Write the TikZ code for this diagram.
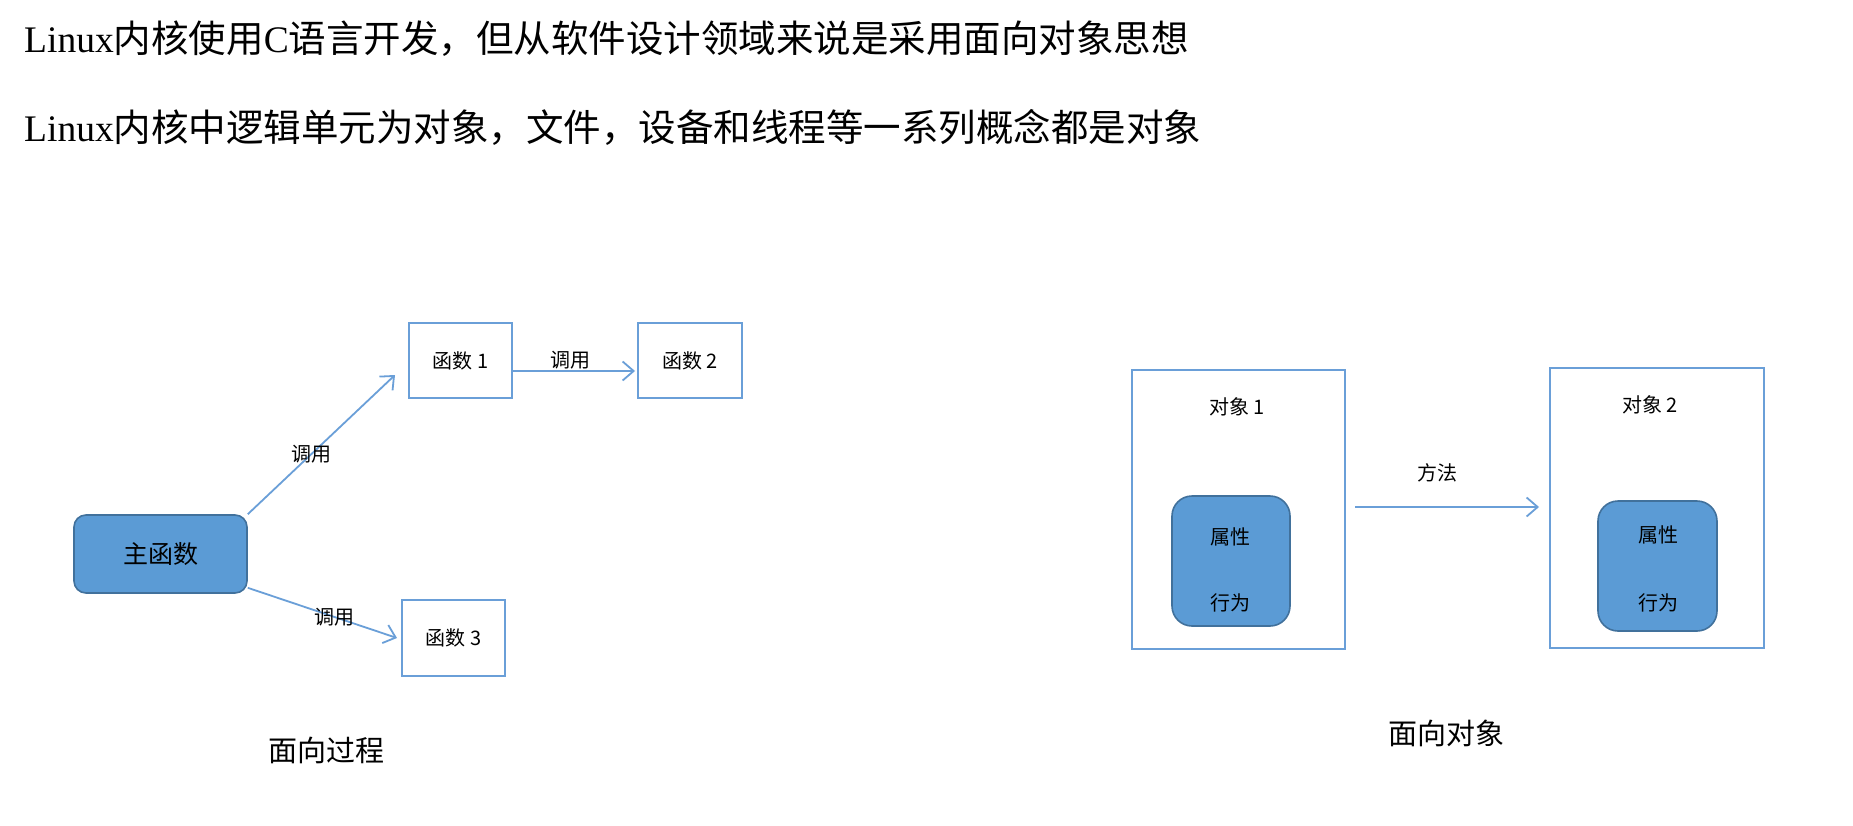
\documentclass[tikz,border=0pt]{standalone}
\usepackage{fontspec}
\setmainfont{Liberation Serif}
\newfontfamily\cjk{Noto Sans CJK SC}
\usetikzlibrary{arrows.meta}
\definecolor{fillblue}{HTML}{5B9BD5}
\definecolor{darkedge}{HTML}{41719C}
\definecolor{lineblue}{HTML}{6A9FD8}
\tikzset{
  topline/.style={anchor=base west, inner sep=0pt, font=\fontsize{37.5}{40}\selectfont},
  funcbox/.style={draw=lineblue, line width=2pt, fill=white, inner sep=0pt, font=\cjk\fontsize{20}{22}\selectfont},
  objbox/.style={draw=lineblue, line width=2pt, inner sep=0pt},
  bluebox/.style={draw=darkedge, fill=fillblue, line width=1.6pt, rounded corners=14pt, inner sep=0pt},
  lbl/.style={inner sep=0pt, font=\cjk\fontsize{20}{22}\selectfont},
  caption/.style={inner sep=0pt, font=\cjk\fontsize{29}{31}\selectfont},
  conn/.style={draw=lineblue, line width=1.8pt, -{Straight Barb[length=11pt,width=19pt,line width=1.8pt]}}
}
\begin{document}
\begin{tikzpicture}[x=1pt,y=-1pt]
\useasboundingbox[fill=white] (0,0) rectangle (1853,825);

% top text lines
\node[topline] (l1) at (24,52) {Linux{\cjk 内核使用}C{\cjk 语言开发，但从软件设计领域来说是采用面向对象思想}};
\node[topline] (l2) at (24,141) {Linux{\cjk 内核中逻辑单元为对象，文件，设备和线程等一系列概念都是对象}};

% procedure-oriented diagram
\node[bluebox, minimum width=173pt, minimum height=78pt, rounded corners=12pt, font=\cjk\fontsize{25}{27}\selectfont] (main) at (160.5,554) {主函数};
\node[funcbox, minimum width=103pt, minimum height=75pt] (f1) at (460.5,360.5) {函数 1};
\node[funcbox, minimum width=104pt, minimum height=75pt] (f2) at (690,360.5) {函数 2};
\node[funcbox, minimum width=103pt, minimum height=76pt] (f3) at (453.5,638) {函数 3};

\draw[conn] (main.north east) -- ([xshift=-13pt,yshift=-14.5pt]f1.west)
  node[lbl, pos=0.43] (c1) {调用};
\draw[conn] ([yshift=-10.5pt]f1.east) -- ([xshift=-2pt,yshift=-10.5pt]f2.west)
  node[lbl, pos=0.47, yshift=11pt] (c2) {调用};
\draw[conn] ([yshift=6pt]main.south east) -- ([xshift=-4pt]f3.west)
  node[lbl, pos=0.58] (c3) {调用};

\node[caption] (cap1) at (326,750) {面向过程};

% object-oriented diagram
\node[objbox, minimum width=213pt, minimum height=279pt] (o1) at (1238.5,509.5) {};
\node[objbox, minimum width=214pt, minimum height=280pt] (o2) at (1657,508) {};
\node[lbl] (o1t) at (1237,407) {对象 1};
\node[lbl] (o2t) at (1650,405) {对象 2};
\node[bluebox, minimum width=118pt, minimum height=130pt, rounded corners=20pt] (i1) at (1231,561) {};
\node[bluebox, minimum width=119pt, minimum height=130pt, rounded corners=20pt] (i2) at (1657.5,566) {};
\node[lbl] (a1) at (1230,537) {属性};
\node[lbl] (b1) at (1230,603) {行为};
\node[lbl] (a2) at (1658,535) {属性};
\node[lbl] (b2) at (1658,603) {行为};

\draw[conn] ([xshift=9pt,yshift=2.5pt]o1.east) -- ([xshift=-10pt,yshift=1pt]o2.west)
  node[lbl, pos=0.45, yshift=34pt] (m) {方法};

\node[caption] (cap2) at (1446,733) {面向对象};
\end{tikzpicture}
\end{document}
